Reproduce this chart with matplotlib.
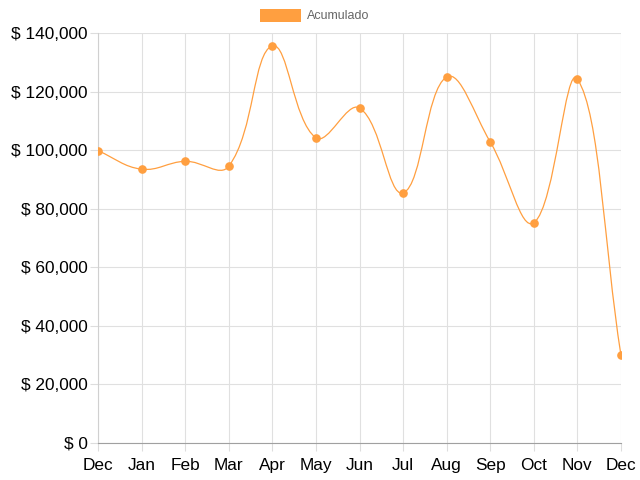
import numpy as np
import matplotlib.pyplot as plt
from matplotlib.path import Path
from matplotlib.patches import PathPatch, Rectangle

plt.rcParams['font.family'] = ['Liberation Sans', 'DejaVu Sans']

months = ['Dec', 'Jan', 'Feb', 'Mar', 'Apr', 'May', 'Jun', 'Jul', 'Aug', 'Sep', 'Oct', 'Nov', 'Dec']
acumulado = [99800, 93500, 96200, 94500, 135600, 104200, 114400, 85400, 125000, 102800, 75200, 124300, 29900]

color = '#ff9f40'
fig = plt.figure(figsize=(6.4, 4.8), dpi=100)
ax = fig.add_axes([98 / 640, 37 / 480, 523 / 640, 410 / 480])

x = np.arange(len(months))
y = np.array(acumulado, dtype=float)
ax.set_xlim(0, len(months) - 1)
ax.set_ylim(0, 140000)

# bezier like chart.js (tension 0.4), computed in pixel space
sx = 523 / (len(months) - 1)
sy = 410 / 140000
px, py = x * sx, y * sy
t = 0.4
cps = []
for i in range(len(x)):
    p0 = max(i - 1, 0)
    p2 = min(i + 1, len(x) - 1)
    d01 = np.hypot(px[i] - px[p0], py[i] - py[p0])
    d12 = np.hypot(px[p2] - px[i], py[p2] - py[i])
    tot = d01 + d12
    s01 = d01 / tot if tot else 0
    s12 = d12 / tot if tot else 0
    dx, dy = px[p2] - px[p0], py[p2] - py[p0]
    prev = (px[i] - t * s01 * dx, py[i] - t * s01 * dy)
    nxt = (px[i] + t * s12 * dx, py[i] + t * s12 * dy)
    cps.append((prev, nxt))

verts = [(x[0], y[0])]
codes = [Path.MOVETO]
for i in range(len(x) - 1):
    c1 = cps[i][1]
    c2 = cps[i + 1][0]
    verts += [(c1[0] / sx, c1[1] / sy), (c2[0] / sx, c2[1] / sy), (x[i + 1], y[i + 1])]
    codes += [Path.CURVE4] * 3
ax.add_patch(PathPatch(Path(verts, codes), facecolor='none', edgecolor=color, lw=0.9, zorder=3))
ax.plot(x, y, 'o', color=color, ms=5.2, zorder=4)

ax.set_xticks(x)
ax.set_xticklabels(months)
ax.set_yticks(np.arange(0, 140001, 20000))
ax.set_yticklabels([f'$ {v:,}' for v in range(0, 140001, 20000)])
ax.tick_params(labelsize=12.4, colors='#dddddd', labelcolor='black', length=6, width=0.8)
ax.tick_params(axis='x', pad=5)
ax.tick_params(axis='y', pad=1.5)
ax.grid(True, color='#e0e0e0', lw=0.8)
for s in ['top', 'right']:
    ax.spines[s].set_visible(False)
ax.spines['left'].set_color('#d0d0d0')
ax.spines['bottom'].set_color('#a0a0a0')
ax.set_axisbelow(True)

# legend
fig.add_artist(Rectangle((260 / 640, 1 - 22 / 480), 41 / 640, 13 / 480,
                         transform=fig.transFigure, facecolor=color, edgecolor='none'))
fig.text(307 / 640, 1 - 16 / 480, 'Acumulado', fontsize=9, color='#666666', va='center')

plt.savefig('out.png')
